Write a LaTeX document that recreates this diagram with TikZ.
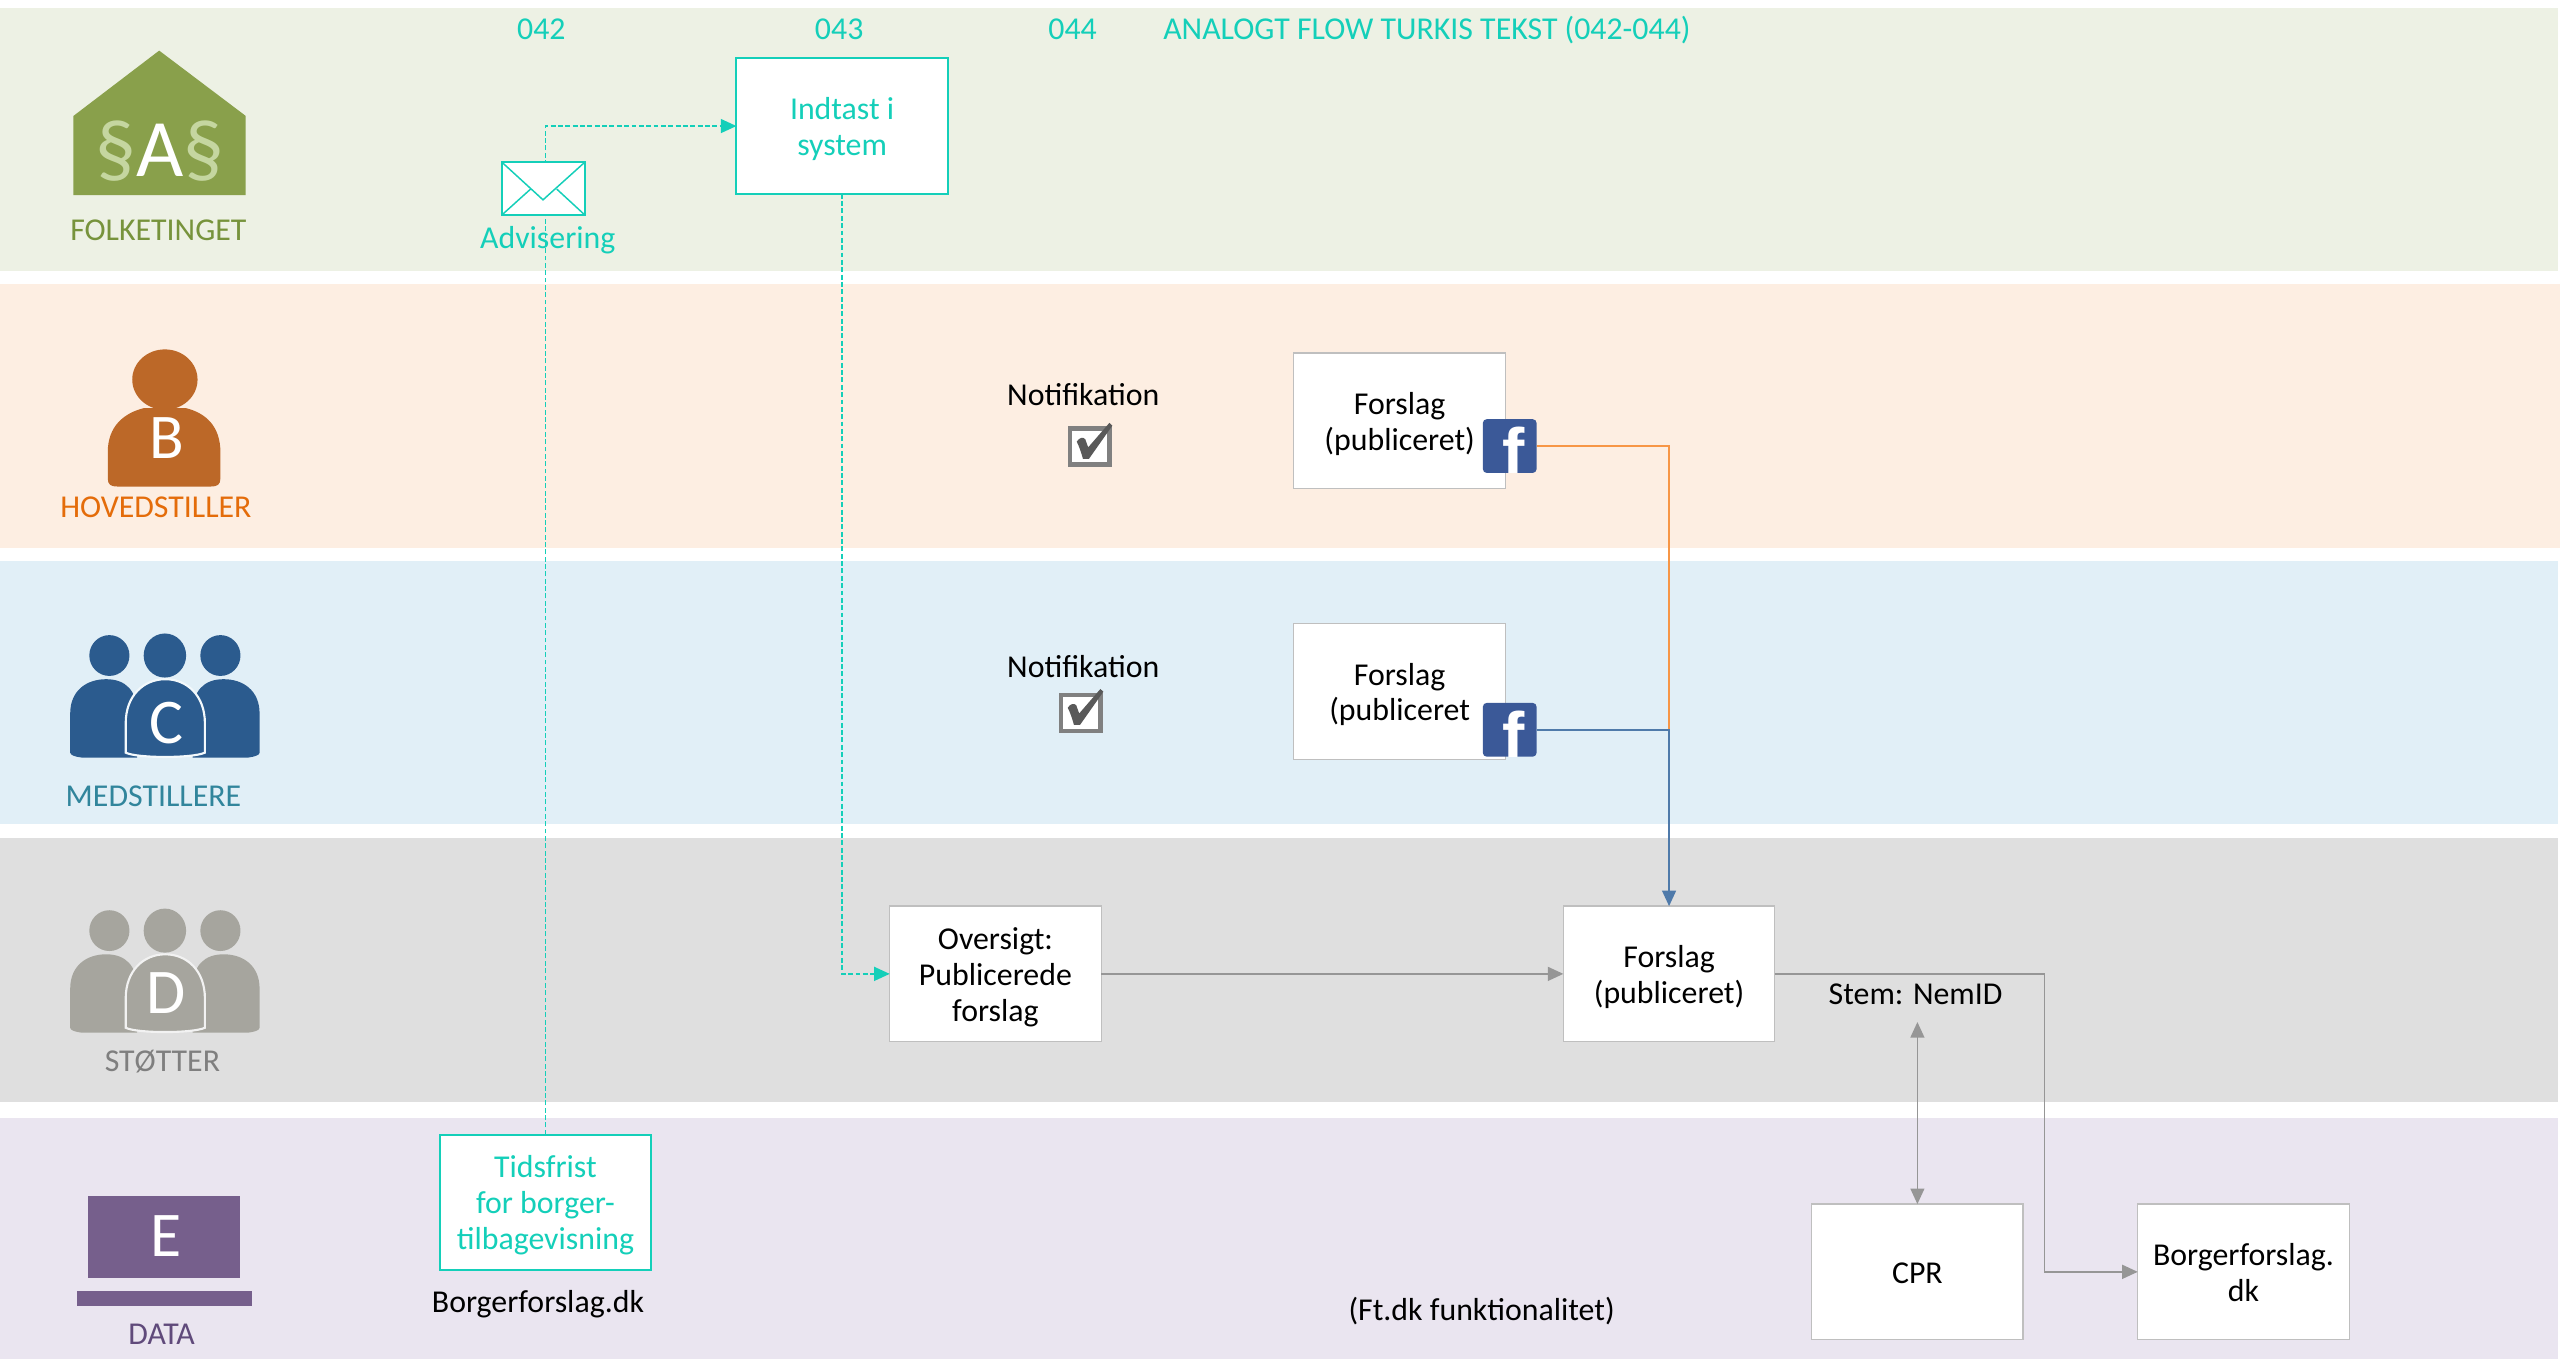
\documentclass[tikz,border=0pt]{standalone}
\usepackage{fontspec}
\setmainfont{Carlito}
\newfontfamily\fbfont{Liberation Sans}
\usetikzlibrary{arrows.meta}

\definecolor{lgreen}{RGB}{237,241,228}
\definecolor{lorange}{RGB}{253,238,226}
\definecolor{lblue}{RGB}{225,239,247}
\definecolor{lgray}{RGB}{223,223,223}
\definecolor{lpurple}{RGB}{234,229,240}
\definecolor{housegreen}{RGB}{137,160,75}
\definecolor{seclight}{RGB}{197,214,160}
\definecolor{ftext}{RGB}{119,147,60}
\definecolor{porange}{RGB}{188,104,40}
\definecolor{htext}{RGB}{228,108,10}
\definecolor{pblue}{RGB}{43,91,142}
\definecolor{mtext}{RGB}{49,133,156}
\definecolor{pgray}{RGB}{166,165,158}
\definecolor{stext}{RGB}{127,127,127}
\definecolor{dpurple}{RGB}{118,95,140}
\definecolor{dtext}{RGB}{96,74,123}
\definecolor{turq}{RGB}{20,207,185}
\definecolor{boxgray}{RGB}{191,191,191}
\definecolor{conngray}{RGB}{150,150,150}
\definecolor{lineorange}{RGB}{247,150,70}
\definecolor{lineblue}{RGB}{79,122,170}
\definecolor{fbblue}{RGB}{59,89,152}
\definecolor{chkgray}{RGB}{128,128,128}
\definecolor{chkdark}{RGB}{89,89,89}

\newcommand\TopS{\rule{0pt}{20pt}}
\newcommand\BotS{\rule[-6pt]{0pt}{6pt}}

\newcommand\ThreePeople[3]{%
\begin{scope}[shift={(0,#3)}]
 \fill[#1] (67,401.5) ellipse[x radius=12.3,y radius=12.5];
 \fill[#1] (135,401.5) ellipse[x radius=12.3,y radius=12.5];
 \fill[#1] (101,401.5) ellipse[x radius=13,y radius=13.5];
 \fill[#1] (43,461) -- (43,437) .. controls (43,423) and (53,416) .. (65,416) .. controls (77,416) and (84,423) .. (84,437) -- (84,464) -- (50,464) .. controls (46,463.5) and (43,462.5) .. (43,461) -- cycle;
 \fill[#1] (159,461) -- (159,437) .. controls (159,423) and (149,416) .. (137,416) .. controls (125,416) and (118,423) .. (118,437) -- (118,464) -- (152,464) .. controls (156,463.5) and (159,462.5) .. (159,461) -- cycle;
 \filldraw[fill=#1, draw=#2, line width=1.3pt] (77,461) -- (77,443) .. controls (77,426) and (88,416) .. (101.25,416) .. controls (114.5,416) and (125.5,426) .. (125.5,443) -- (125.5,461) .. controls (118,464.5) and (84,464.5) .. (77,461) -- cycle;
\end{scope}}

\begin{document}
\begin{tikzpicture}[x=1pt,y=-1pt,
  every node/.style={inner sep=0pt, outer sep=0pt, font=\fontsize{19.5}{22}\selectfont},
  lbl/.style={anchor=base},
  procbox/.style={draw=boxgray, line width=0.8pt, fill=white, minimum width=129.5pt, minimum height=83pt, align=center, text=black},
  turqbox/.style={procbox, draw=turq, line width=1.2pt, text=turq},
  conn/.style={draw=conngray, line width=1.1pt},
  arrowtip/.style={-{Triangle[length=9.5pt,width=8.5pt]}},
  tdash/.style={draw=turq, line width=1pt, dash pattern=on 3pt off 1.5pt},
  fbicon/.style={fill=fbblue, rounded corners=2.5pt, minimum size=33pt, path picture={\node[anchor=base, text=white, font=\fbfont\bfseries\fontsize{41}{41}\selectfont] at ([xshift=2.7pt,yshift=-1.5pt]path picture bounding box.south) {f};}},
  bigletter/.style={text=white, font=\fontsize{39}{39}\selectfont},
  chkbox/.pic={
    \filldraw[fill=white, draw=chkgray, line width=2.6pt] (-12,-11) rectangle (12,11);
    \fill[chkdark] (-8,-3) .. controls (-6.5,-5.5) and (-4,-6) .. (-2.8,-4.5) -- (-1,0.5) -- (12,-14.5) -- (13.8,-12.8) -- (-0.5,7.5) -- (-4.2,7.5) .. controls (-5.5,3) and (-6.5,0) .. cycle;
  },
]
\useasboundingbox (0,0) rectangle (1568,832.4);

% lanes
\fill[lgreen] (0,5) rectangle (1567,166.2);
\fill[lorange] (0,174) rectangle (1568,335.6);
\fill[lblue] (0,343.5) rectangle (1567,504.6);
\fill[lgray] (0,513) rectangle (1567,675);
\fill[lpurple] (0,684.6) rectangle (1567,832.4);

% Folketinget house
\fill[housegreen] (45,71) -- (97.5,31) -- (150.5,71) -- (150.5,119.5) -- (45,119.5) -- cycle;
\node[anchor=base, font=\fontsize{50}{50}\selectfont, text=white] (sas) at (98,108) {\textcolor{seclight}{§}A\textcolor{seclight}{§}};

% Hovedstiller person
\fill[porange] (101,232.5) ellipse[x radius=20, y radius=18.5];
\fill[porange] (66,293) -- (66,277) .. controls (66,261) and (76,253) .. (88,250) -- (114,250) .. controls (126,253) and (135,261) .. (135,277) -- (135,293) .. controls (135,297) and (133,298) .. (129,298) -- (72,298) .. controls (68,298) and (66,297) .. (66,293) -- cycle;

% Medstillere / Stoetter
\ThreePeople{pblue}{lblue!40!white}{0}
\ThreePeople{pgray}{lgray!40!white}{168.5}

% Data
\fill[dpurple] (54,732.5) rectangle (147,782.5);
\fill[dpurple] (47,790.5) rectangle (154.5,800);

\node[bigletter] (lB) at (102,268.5) {B};
\node[bigletter] (lC) at (102,443) {C};
\node[bigletter] (lD) at (102,608.5) {D};
\node[bigletter] (lE) at (102,757) {E};

% lane labels
\node[lbl, text=ftext] (lf) at (97,147.5) {FOLKETINGET};
\node[lbl, text=htext] (lh) at (95.5,317) {HOVEDSTILLER};
\node[lbl, text=mtext] (lm) at (94,494) {MEDSTILLERE};
\node[lbl, text=stext] (ls) at (99.5,656.5) {STØTTER};
\node[lbl, text=dtext] (ld) at (99,823.7) {DATA};

% header
\node[lbl, text=turq] (h042) at (331.6,24) {042};
\node[lbl, text=turq] (h043) at (514,24) {043};
\node[lbl, text=turq] (h044) at (657,24) {044};
\node[lbl, anchor=base west, text=turq] (htitle) at (712.5,24) {ANALOGT FLOW TURKIS TEKST (042-044)};

% boxes
\node[turqbox] (ind) at (515.8,77.2) {\TopS Indtast i\\system\BotS};
\node[turqbox, minimum width=129.7pt] (tids) at (334.1,736.5) {\TopS Tidsfrist\\for borger-\\tilbagevisning\BotS};
\node[procbox, minimum width=130pt] (fs1) at (857.3,257.8) {\TopS Forslag\\(publiceret)\BotS};
\node[procbox, minimum width=130pt] (fs2) at (857.3,423.6) {\TopS Forslag\\(publiceret\BotS};
\node[procbox] (ovs) at (609.7,596.5) {\TopS Oversigt:\\Publicerede\\forslag\BotS};
\node[procbox] (fs3) at (1022.3,596.5) {\TopS Forslag\\(publiceret)\BotS};
\node[procbox] (cpr) at (1174.4,779) {\TopS CPR\BotS};
\node[procbox] (bfd) at (1374.1,779) {\TopS Borgerforslag.\\dk\BotS};

% facebook icons
\node[fbicon] (fb1) at (924.7,273.2) {};
\node[fbicon] (fb2) at (924.7,447) {};

% checkboxes
\pic at (667.5,273.5) {chkbox};
\pic at (662,436.5) {chkbox};

% connectors
\coordinate (j) at (1022.3,447);
\draw[lineorange, line width=1pt] (fb1.east) -| (j);
\draw[lineblue, line width=1pt, arrowtip] (fb2.east) -- (j) -- (fs3.north);
\draw[conn, arrowtip] (ovs.east) -- (fs3.west);
\coordinate (bend) at (1252.3,596.5);
\draw[conn, arrowtip] (fs3.east) -- (bend) |- (bfd.west);
\coordinate (nemid) at (1174.4,626);
\draw[conn, line width=0.9pt, {Triangle[length=9.5pt,width=8.5pt]}-{Triangle[length=9.5pt,width=8.5pt]}] (nemid) -- (cpr.north);

\draw[tdash, arrowtip] (tids.north) |- (ind.west);
\draw[tdash, arrowtip] (ind.south) |- (ovs.west);

% envelope
\node[draw=turq, fill=white, line width=1.1pt, minimum width=51pt, minimum height=32.5pt] (env) at (332.8,115.5) {};
\draw[turq, line width=0.9pt] (env.north west) -- (332.6,122.4) -- (env.north east);
\draw[turq, line width=0.9pt] (env.south west) -- (325,115.8);
\draw[turq, line width=0.9pt] (env.south east) -- (341,115.8);

% texts
\node[lbl, text=turq] (advis) at (335.5,152) {Advisering};
\node[lbl] (not1) at (663.5,248.6) {Notifikation};
\node[lbl] (not2) at (663.5,414.8) {Notifikation};
\node[lbl] (stem) at (1173.3,615.5) {Stem: NemID};
\node[lbl] (bfdk) at (329.5,804) {Borgerforslag.dk};
\node[lbl] (ftdk) at (907.5,809) {(Ft.dk funktionalitet)};
\end{tikzpicture}
\end{document}
